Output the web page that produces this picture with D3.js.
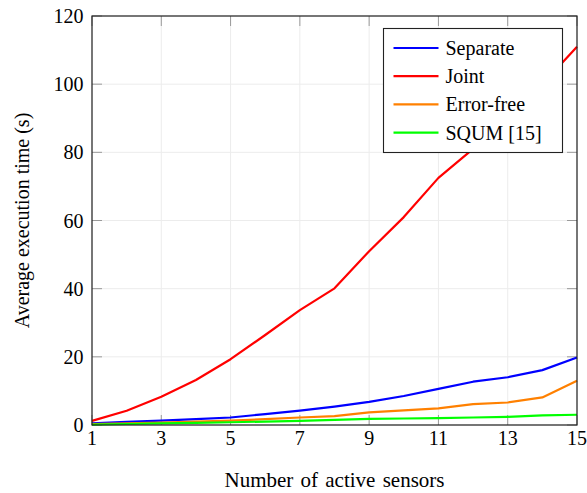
<!DOCTYPE html>
<html>
<head>
<meta charset="utf-8">
<script src="https://cdn.jsdelivr.net/npm/d3@7"></script>
<style>
  body { margin: 0; background: #fff; }
</style>
</head>
<body>
<svg id="chart" width="587" height="493"></svg>
<script>
// data
var sensors = [1, 2, 3, 4, 5, 6, 7, 8, 9, 10, 11, 12, 13, 14, 15];
var separate  = [0.5, 0.9, 1.3, 1.7, 2.2, 3.2, 4.2, 5.4, 6.8, 8.5, 10.6, 12.7, 14.0, 16.1, 19.8];
var joint     = [1.2, 4.2, 8.3, 13.2, 19.3, 26.4, 33.7, 40.1, 51.0, 61.0, 72.5, 81.0, 90.0, 100.0, 111.0];
var errorFree = [0.3, 0.5, 0.7, 1.0, 1.3, 1.7, 2.2, 2.6, 3.7, 4.3, 4.9, 6.1, 6.6, 8.1, 13.0];
var squm      = [0.1, 0.3, 0.5, 0.6, 0.8, 1.0, 1.2, 1.5, 1.8, 1.9, 2.0, 2.2, 2.4, 2.8, 3.0];
var seriesNames = ["Separate", "Joint", "Error-free", "SQUM [15]"];
var seriesColors = ["#0000ff", "#ff0000", "#ff8000", "#00ff00"];
var xTicks = [1, 3, 5, 7, 9, 11, 13, 15];
var yTicks = [0, 20, 40, 60, 80, 100, 120];

var svg = d3.select("#chart"),
    margin = { top: 16, right: 10, bottom: 68, left: 92 },
    iwidth = +svg.attr("width") - margin.left - margin.right,
    iheight = +svg.attr("height") - margin.top - margin.bottom,
    g = svg.append("g").attr("transform", "translate(" + margin.left + "," + margin.top + ")");

var fs = "20px";
var ff = "'Liberation Serif'";

var x = d3.scaleLinear().domain([1, 15]).range([0, iwidth]);
var y = d3.scaleLinear().domain([0, 120]).range([iheight, 0]);

// grid
g.append("g").selectAll("line").data(xTicks).enter().append("line")
  .attr("x1", d => x(d)).attr("x2", d => x(d))
  .attr("y1", 0).attr("y2", iheight)
  .attr("stroke", "#ececec").attr("stroke-width", 1);
g.append("g").selectAll("line").data(yTicks).enter().append("line")
  .attr("y1", d => y(d)).attr("y2", d => y(d))
  .attr("x1", 0).attr("x2", iwidth)
  .attr("stroke", "#ececec").attr("stroke-width", 1);

// inner ticks on all four sides
var tk = 10;
var tickCol = "#9a9a9a";
g.append("g").selectAll("line").data(xTicks).enter().append("line")
  .attr("x1", d => x(d)).attr("x2", d => x(d)).attr("y1", 0).attr("y2", tk)
  .attr("stroke", tickCol);
g.append("g").selectAll("line").data(xTicks).enter().append("line")
  .attr("x1", d => x(d)).attr("x2", d => x(d)).attr("y1", iheight).attr("y2", iheight - tk)
  .attr("stroke", tickCol);
g.append("g").selectAll("line").data(yTicks).enter().append("line")
  .attr("y1", d => y(d)).attr("y2", d => y(d)).attr("x1", 0).attr("x2", tk)
  .attr("stroke", tickCol);
g.append("g").selectAll("line").data(yTicks).enter().append("line")
  .attr("y1", d => y(d)).attr("y2", d => y(d)).attr("x1", iwidth).attr("x2", iwidth - tk)
  .attr("stroke", tickCol);

// tick labels
g.append("g").selectAll("text").data(xTicks).enter().append("text")
  .attr("x", d => x(d)).attr("y", iheight + 20)
  .attr("text-anchor", "middle")
  .style("font-family", ff).style("font-size", fs)
  .text(d => d);
g.append("g").selectAll("text").data(yTicks).enter().append("text")
  .attr("x", -8.5).attr("y", d => y(d)).attr("dy", "0.35em")
  .attr("text-anchor", "end")
  .style("font-family", ff).style("font-size", fs)
  .text(d => d);

// lines
var all = [separate, joint, errorFree, squm];
var line = d3.line().x((d, i) => x(sensors[i])).y(d => y(d));
g.append("g").selectAll("path").data(all).enter().append("path")
  .attr("d", d => line(d))
  .attr("fill", "none")
  .attr("stroke", (d, i) => seriesColors[i])
  .attr("stroke-width", 2.2)
  .attr("stroke-linejoin", "round");

// frame
g.append("rect")
  .attr("x", 0).attr("y", 0).attr("width", iwidth).attr("height", iheight)
  .attr("fill", "none").attr("stroke", "#222").attr("stroke-width", 1.2);

// legend
var lg = svg.append("g").attr("transform", "translate(383.5,28.5)");
lg.append("rect").attr("width", 179).attr("height", 124)
  .attr("fill", "#fff").attr("stroke", "#222").attr("stroke-width", 1.1);
var item = lg.selectAll("g.item").data(seriesNames).enter().append("g")
  .attr("class", "item")
  .attr("transform", (d, i) => "translate(0," + (19.5 + i * 28.2) + ")");
item.append("line").attr("x1", 10).attr("x2", 55).attr("y1", 0).attr("y2", 0)
  .attr("stroke", (d, i) => seriesColors[i]).attr("stroke-width", 2.2);
item.append("text").attr("x", 62).attr("y", 0).attr("dy", "0.35em")
  .style("font-family", ff).style("font-size", fs).text(d => d);

// axis titles
svg.append("text")
  .attr("x", margin.left + iwidth / 2).attr("y", 487)
  .attr("text-anchor", "middle")
  .style("font-family", ff).style("font-size", "21px").style("word-spacing", "2px")
  .text("Number of active sensors");
svg.append("text")
  .attr("transform", "translate(29," + (margin.top + iheight / 2) + ") rotate(-90)")
  .attr("text-anchor", "middle")
  .style("font-family", ff).style("font-size", fs)
  .text("Average execution time (s)");
</script>
</body>
</html>
